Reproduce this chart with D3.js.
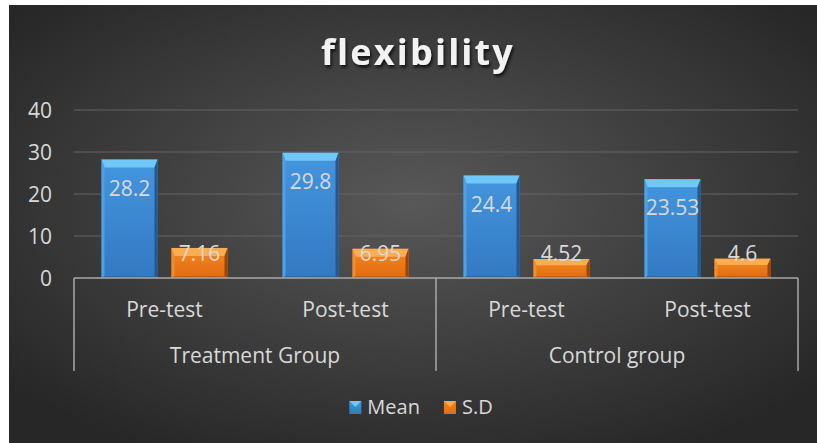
<!DOCTYPE html>
<html>
<head>
<meta charset="utf-8">
<script src="https://cdn.jsdelivr.net/npm/d3@7"></script>
<style>
  html, body { margin: 0; padding: 0; background: #ffffff; }
  svg { display: block; }
  text { font-family: "Open Sans", "Noto Sans", sans-serif; }
</style>
</head>
<body>
<svg id="chart" width="817" height="443"></svg>
<script>
// ---- data ----
const title = "flexibility";
const groups = ["Treatment Group", "Control group"];
const tests = ["Pre-test", "Post-test", "Pre-test", "Post-test"];
const categoryGroup = [0, 0, 1, 1];
const seriesNames = ["Mean", "S.D"];
const meanValues = [28.2, 29.8, 24.4, 23.53];
const sdValues = [7.16, 6.95, 4.52, 4.6];
const yTicks = [0, 10, 20, 30, 40];

const W = 817, H = 443;
const svg = d3.select("#chart");
const defs = svg.append("defs");

// background gradient
const bg = defs.append("radialGradient").attr("id", "bgGrad")
  .attr("cx", "50%").attr("cy", "45%").attr("r", "65%");
bg.append("stop").attr("offset", "0%").attr("stop-color", "#585858");
bg.append("stop").attr("offset", "100%").attr("stop-color", "#272727");

svg.append("rect").attr("x", 9).attr("y", 5).attr("width", W - 9).attr("height", H - 5)
  .attr("fill", "url(#bgGrad)");

// bar gradients
const palette = {
  "Mean": {body: ["#4396de", "#3479c2"], top: "#70c8f7", left: "#4da1e4", right: "#24598f", bottom: "#2b6aab"},
  "S.D":  {body: ["#f68721", "#e06c12"], top: "#fbad52", left: "#f28d2e", right: "#9b4607", bottom: "#c65b0c"}
};
seriesNames.forEach((s, i) => {
  const g = defs.append("linearGradient").attr("id", "bar" + i).attr("x1", 0).attr("y1", 0).attr("x2", 0).attr("y2", 1);
  g.append("stop").attr("offset", "0%").attr("stop-color", palette[s].body[0]);
  g.append("stop").attr("offset", "100%").attr("stop-color", palette[s].body[1]);
});

// title shadow
const f = defs.append("filter").attr("id", "shadow").attr("x", "-10%").attr("y", "-20%").attr("width", "130%").attr("height", "160%");
f.append("feDropShadow").attr("dx", 1.5).attr("dy", 2.5).attr("stdDeviation", 1.5).attr("flood-color", "#000").attr("flood-opacity", 0.75);

// ---- scales ----
const plotLeft = 74, plotRight = 798, plotTop = 110, plotBottom = 278;
const y = d3.scaleLinear().domain([0, 40]).range([plotBottom, plotTop]);
const x0 = d3.scaleBand().domain(d3.range(tests.length)).range([plotLeft, plotRight]).padding(0);
const outer = x0.bandwidth() * 0.152;
const x1 = d3.scaleBand().domain(seriesNames).range([outer, x0.bandwidth() - outer]).paddingInner(0.2).paddingOuter(0);

const textColor = "#d9d9d9";

// gridlines
svg.append("g").selectAll("line").data(yTicks.filter(t => t > 0)).join("line")
  .attr("x1", plotLeft).attr("x2", plotRight)
  .attr("y1", d => y(d)).attr("y2", d => y(d))
  .attr("stroke", "#646464").attr("stroke-width", 1.2);

// y tick labels
svg.append("g").selectAll("text").data(yTicks).join("text")
  .attr("x", 52).attr("y", d => y(d) + 7.5)
  .attr("text-anchor", "end").attr("font-size", 21).attr("fill", textColor)
  .text(d => d);

// bars
const data = [];
tests.forEach((t, i) => {
  data.push({cat: i, series: "Mean", si: 0, value: meanValues[i]});
  data.push({cat: i, series: "S.D", si: 1, value: sdValues[i]});
});

const bars = svg.append("g").selectAll("g").data(data).join("g");
bars.each(function(d) {
  const g = d3.select(this);
  const bx = x0(d.cat) + x1(d.series);
  const bw = x1.bandwidth();
  const by = y(d.value);
  const bh = y(0) - by;
  const tb = Math.min(8, bh / 3), sb = 3, bb = 2;
  const p = palette[d.series];
  g.append("rect").attr("x", bx).attr("y", by).attr("width", bw).attr("height", bh).attr("fill", "url(#bar" + d.si + ")");
  g.append("polygon").attr("points", [[bx, by], [bx + bw, by], [bx + bw - sb, by + tb], [bx + sb, by + tb]].join(" ")).attr("fill", p.top);
  g.append("polygon").attr("points", [[bx, by], [bx + sb, by + tb], [bx + sb, by + bh - bb], [bx, by + bh]].join(" ")).attr("fill", p.left);
  g.append("polygon").attr("points", [[bx + bw, by], [bx + bw - sb, by + tb], [bx + bw - sb, by + bh - bb], [bx + bw, by + bh]].join(" ")).attr("fill", p.right);
  g.append("polygon").attr("points", [[bx, by + bh], [bx + sb, by + bh - bb], [bx + bw - sb, by + bh - bb], [bx + bw, by + bh]].join(" ")).attr("fill", p.bottom);
  const center = Math.min(by + 28.5, y(0) - 25);
  g.append("text").attr("x", bx + bw / 2).attr("y", center + 7.5)
    .attr("text-anchor", "middle").attr("font-size", 21).attr("fill", textColor)
    .text(d.value);
});

// category axis box
const axisColor = "#a8a8a8";
const boxBottom = 371;
const axisG = svg.append("g").attr("stroke", axisColor).attr("stroke-width", 1.5).attr("fill", "none");
axisG.append("line").attr("x1", plotLeft).attr("x2", plotRight).attr("y1", y(0)).attr("y2", y(0));
const groupEdges = [plotLeft];
groups.forEach((gname, gi) => {
  const idx = categoryGroup.map((c, i) => c === gi ? i : -1).filter(i => i >= 0);
  groupEdges.push(x0(idx[idx.length - 1]) + x0.bandwidth());
});
axisG.selectAll("line.v").data(groupEdges).join("line").attr("class", "v")
  .attr("x1", d => d).attr("x2", d => d).attr("y1", y(0)).attr("y2", boxBottom);

// category labels
svg.append("g").selectAll("text").data(tests).join("text")
  .attr("x", (d, i) => x0(i) + x0.bandwidth() / 2).attr("y", 317)
  .attr("text-anchor", "middle").attr("font-size", 21).attr("fill", textColor)
  .text(d => d);

// group labels
svg.append("g").selectAll("text").data(groups).join("text")
  .attr("x", (d, i) => (groupEdges[i] + groupEdges[i + 1]) / 2).attr("y", 363)
  .attr("text-anchor", "middle").attr("font-size", 21).attr("fill", textColor)
  .text(d => d);

// title
svg.append("text").attr("x", 418).attr("y", 65)
  .attr("text-anchor", "middle").attr("font-size", 36).attr("font-weight", "bold")
  .attr("letter-spacing", 2.2).attr("fill", "#f2f2f2").attr("filter", "url(#shadow)")
  .text(title);

// legend
const legend = svg.append("g");
const items = legend.selectAll("g").data(seriesNames).join("g");
items.append("rect").attr("width", 12).attr("height", 13).attr("y", -13)
  .attr("fill", (d, i) => "url(#bar" + i + ")");
items.append("polygon").attr("points", "0,-13 12,-13 6,-7").attr("fill", d => palette[d].top);
items.append("text").attr("x", 18).attr("y", 0).attr("font-size", 20).attr("fill", textColor).text(d => d);
let lx = 0;
const widths = [];
items.each(function() { widths.push(this.getBBox().width); });
const gap = 24;
const total = d3.sum(widths) + gap * (widths.length - 1);
lx = 421 - total / 2;
items.attr("transform", (d, i) => {
  const t = `translate(${lx},414)`;
  lx += widths[i] + gap;
  return t;
});
</script>
</body>
</html>
